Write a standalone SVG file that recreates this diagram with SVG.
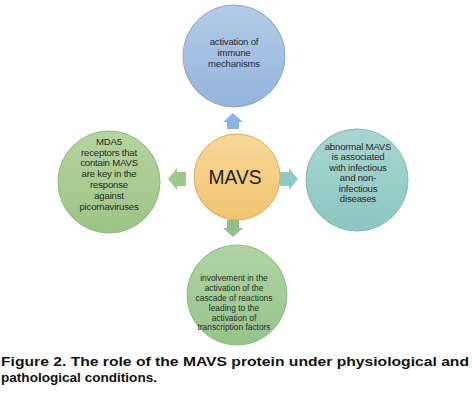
<svg xmlns="http://www.w3.org/2000/svg" width="472" height="406" viewBox="0 0 472 406">
<defs>
<linearGradient id="gBlue" x1="0" y1="0" x2="0" y2="1"><stop offset="0" stop-color="#b3cbe8"/><stop offset="1" stop-color="#94b4dc"/></linearGradient>
<linearGradient id="gGold" x1="0" y1="0" x2="0" y2="1"><stop offset="0" stop-color="#f8d898"/><stop offset="1" stop-color="#f0c470"/></linearGradient>
<linearGradient id="gGreen" x1="0" y1="0" x2="0" y2="1"><stop offset="0" stop-color="#b5d49e"/><stop offset="1" stop-color="#9cc486"/></linearGradient>
<linearGradient id="gTeal" x1="0" y1="0" x2="0" y2="1"><stop offset="0" stop-color="#a8d6d2"/><stop offset="1" stop-color="#8cc6c0"/></linearGradient>
<linearGradient id="gGreen2" x1="0" y1="0" x2="0" y2="1"><stop offset="0" stop-color="#b0d4a4"/><stop offset="1" stop-color="#96c48a"/></linearGradient>
</defs>
<style>
.t{font-family:"Liberation Sans",Arial,sans-serif;font-size:9.6px;fill:#2a2a2a;text-anchor:middle;letter-spacing:-0.2px}
.tb{font-family:"Liberation Sans",Arial,sans-serif;font-size:8.4px;fill:#2a2a2a;text-anchor:middle}
.cap{font-family:"Liberation Sans",Arial,sans-serif;font-size:13px;font-weight:bold;fill:#111}
</style>
<rect width="472" height="406" fill="#ffffff"/>
<g id="connectors">
<polygon points="233,113 243,122 239,122 239,129 227,129 227,122 223,122" fill="#8db3e2"/>
<polygon points="233,237 243,228 239,228 239,220 227,220 227,228 223,228" fill="#8fc08a"/>
<polygon points="168,179 177,168 177,172 186,172 186,186 177,186 177,190" fill="#9cc98a"/>
<polygon points="298,179 289,168 289,172 280,172 280,186 289,186 289,190" fill="#8ccac4"/>
</g>
<g id="node-top">
<circle cx="234" cy="56" r="51" fill="url(#gBlue)" stroke="#8aa8cc" stroke-width="1"/>
<text class="t" x="234" y="45">activation of</text>
<text class="t" x="234" y="56">immune</text>
<text class="t" x="234" y="67">mechanisms</text>
</g>
<g id="node-center">
<circle cx="237" cy="177" r="43" fill="url(#gGold)" stroke="#d8ae5c" stroke-width="1"/>
<text x="235" y="184" font-family="Liberation Sans,Arial,sans-serif" font-size="20" fill="#222" text-anchor="middle" textLength="53" lengthAdjust="spacingAndGlyphs">MAVS</text>
</g>
<g id="node-left">
<circle cx="109" cy="182" r="51" fill="url(#gGreen)" stroke="#8fb87a" stroke-width="1"/>
<text class="t" x="109" y="145">MDA5</text>
<text class="t" x="109" y="156">receptors that</text>
<text class="t" x="109" y="166">contain MAVS</text>
<text class="t" x="109" y="177">are key in the</text>
<text class="t" x="109" y="188">response</text>
<text class="t" x="109" y="199">against</text>
<text class="t" x="109" y="210">picornaviruses</text>
</g>
<g id="node-right">
<circle cx="357" cy="180" r="51" fill="url(#gTeal)" stroke="#7fbab4" stroke-width="1"/>
<text class="t" x="358" y="150">abnormal MAVS</text>
<text class="t" x="358" y="160">is associated</text>
<text class="t" x="358" y="171">with infectious</text>
<text class="t" x="358" y="181">and non-</text>
<text class="t" x="358" y="192">infectious</text>
<text class="t" x="358" y="202">diseases</text>
</g>
<g id="node-bottom">
<circle cx="237" cy="295" r="50" fill="url(#gGreen2)" stroke="#8cba80" stroke-width="1"/>
<text class="tb" x="234" y="281">involvement in the</text>
<text class="tb" x="234" y="291">activation of the</text>
<text class="tb" x="234" y="301">cascade of reactions</text>
<text class="tb" x="234" y="311">leading to the</text>
<text class="tb" x="234" y="321">activation of</text>
<text class="tb" x="234" y="330">transcription factors</text>
</g>
<g id="caption">
<text class="cap" x="1" y="366" textLength="468" lengthAdjust="spacingAndGlyphs">Figure 2. The role of the MAVS protein under physiological and</text>
<text class="cap" x="1" y="382" textLength="156" lengthAdjust="spacingAndGlyphs">pathological conditions.</text>
</g>
</svg>
